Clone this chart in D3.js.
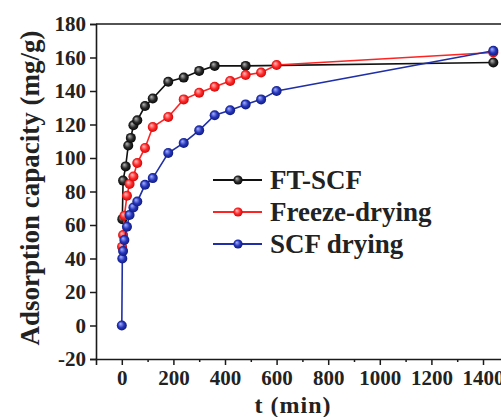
<!DOCTYPE html>
<html>
<head>
<meta charset="utf-8">
<script src="https://cdn.jsdelivr.net/npm/d3@7"></script>
<style>
  html, body { margin: 0; padding: 0; background: #fff; overflow: hidden; }
  text { font-family: "Liberation Serif", "Times New Roman", serif; font-weight: bold; }
</style>
</head>
<body>
<svg id="chart" width="501" height="417"></svg>
<script>
// Adsorption kinetics: capacity (mg/g) versus contact time (min)
const ftTime      = [2, 5, 15, 25, 35, 45, 60, 90, 120, 180, 240, 300, 360, 480, 1440];
const ftValue     = [63.5, 86.5, 95, 107.5, 112, 119.5, 122.5, 131, 135.5, 145.5, 148, 152, 155, 155, 157];

const freezeTime  = [1, 5, 10, 20, 30, 45, 60, 90, 120, 180, 240, 300, 360, 420, 480, 540, 600, 1440];
const freezeValue = [47, 54, 65.5, 77.5, 84.5, 89, 97, 106, 118.5, 124.5, 135, 139, 142.5, 146, 149.5, 151, 155.5, 163];

const scfTime     = [0, 2, 5, 10, 20, 30, 45, 60, 90, 120, 180, 240, 300, 360, 420, 480, 540, 600, 1440];
const scfValue    = [0, 40, 44.5, 51, 59, 66, 70.5, 74, 84, 88, 103, 109, 116.5, 125.5, 128.5, 132, 135, 140, 164];

const seriesNames = ["FT-SCF", "Freeze-drying", "SCF drying"];
const xMajorTicks = [0, 200, 400, 600, 800, 1000, 1200, 1400];
const xMinorTicks = [100, 300, 500, 700, 900, 1100, 1300, 1500];
const yTicks      = [-20, 0, 20, 40, 60, 80, 100, 120, 140, 160, 180];

const xTitle = "t (min)";
const yTitle = "Adsorption capacity (mg/g)";

const series = [
  { name: seriesNames[0], t: ftTime,     v: ftValue,     line: "#111111", stops: ["#b8b8b8", "#2a2a2a", "#000000"] },
  { name: seriesNames[1], t: freezeTime, v: freezeValue, line: "#ff2424", stops: ["#ffc4c4", "#ff2a2a", "#c80000"] },
  { name: seriesNames[2], t: scfTime,    v: scfValue,    line: "#1f2fa8", stops: ["#aab4ff", "#2536bc", "#0c1670"] }
];

const svg = d3.select("#chart");
const x = d3.scaleLinear().domain([-100, 1500]).range([96, 508.8]);
const y = d3.scaleLinear().domain([-20, 180]).range([359, 24]);

// shaded ball markers
const defs = svg.append("defs");
series.forEach((s, i) => {
  const g = defs.append("radialGradient")
    .attr("id", "ball" + i).attr("cx", "50%").attr("cy", "50%").attr("r", "55%")
    .attr("fx", "35%").attr("fy", "32%");
  g.append("stop").attr("offset", "0%").attr("stop-color", s.stops[0]);
  g.append("stop").attr("offset", "55%").attr("stop-color", s.stops[1]);
  g.append("stop").attr("offset", "100%").attr("stop-color", s.stops[2]);
});

// axes
const axisColor = "#1a1a1a";
const fontSize = 21;
const plainInt = d => String(d);   // hyphen-minus for negative ticks

svg.append("g")
  .attr("transform", `translate(0,${y(-20)})`)
  .call(d3.axisBottom(x).tickValues(xMajorTicks).tickSize(6).tickPadding(5).tickFormat(plainInt));
svg.append("g")
  .attr("transform", `translate(0,${y(-20)})`)
  .call(d3.axisBottom(x).tickValues(xMinorTicks).tickSize(3).tickFormat(""))
  .call(g => g.select(".domain").remove());

svg.append("g")
  .attr("transform", `translate(${x(-100)},0)`)
  .call(d3.axisLeft(y).tickValues(yTicks).tickSize(6).tickPadding(4).tickFormat(plainInt));

// top frame
svg.append("line")
  .attr("x1", x(-100)).attr("x2", x(1500))
  .attr("y1", y(180)).attr("y2", y(180))
  .attr("stroke", axisColor).attr("stroke-width", 1.6);

svg.selectAll(".domain").attr("stroke", axisColor).attr("stroke-width", 1.6);
svg.selectAll(".tick line").attr("stroke", axisColor).attr("stroke-width", 1.5);
svg.selectAll(".tick text")
  .attr("font-size", fontSize).attr("fill", "#222")
  .style("font-family", "'Liberation Serif', 'Times New Roman', serif").style("font-weight", "bold");

// axis titles
svg.append("text")
  .attr("x", 293).attr("y", 413)
  .attr("text-anchor", "middle").attr("font-size", 24).attr("letter-spacing", 1).attr("fill", "#222")
  .text(xTitle);
svg.append("text")
  .attr("transform", `translate(39,${188}) rotate(-90)`)
  .attr("text-anchor", "middle").attr("font-size", 27).attr("fill", "#222")
  .text(yTitle);

// series lines and markers
const line = d3.line().x(d => x(d[0])).y(d => y(d[1]));
series.forEach((s, i) => {
  const pts = s.t.map((t, k) => [t, s.v[k]]);
  const g = svg.append("g");
  g.append("path").datum(pts)
    .attr("d", line).attr("fill", "none")
    .attr("stroke", s.line).attr("stroke-width", 1.6);
  g.selectAll("circle").data(pts).join("circle")
    .attr("cx", d => x(d[0])).attr("cy", d => y(d[1]))
    .attr("r", 5).attr("fill", `url(#ball${i})`);
});

// legend
const legendY = [180, 212, 244];
series.forEach((s, i) => {
  const g = svg.append("g").attr("transform", `translate(0,${legendY[i]})`);
  g.append("line").attr("x1", 213).attr("x2", 262).attr("y1", 0).attr("y2", 0)
    .attr("stroke", s.line).attr("stroke-width", 1.8);
  g.append("circle").attr("cx", 238).attr("cy", 0).attr("r", 4.6).attr("fill", `url(#ball${i})`);
  g.append("text").attr("x", 270).attr("y", 9)
    .attr("font-size", 27).attr("fill", "#222").text(s.name);
});
</script>
</body>
</html>
